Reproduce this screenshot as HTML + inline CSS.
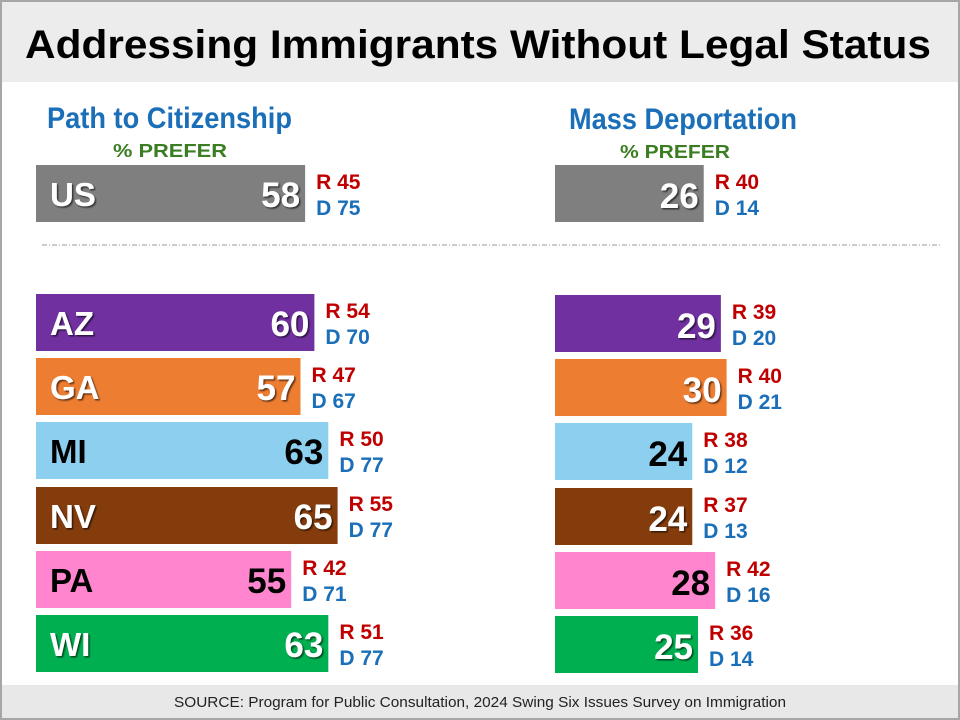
<!DOCTYPE html>
<html><head><meta charset="utf-8"><style>
html,body{margin:0;padding:0;background:#fff}
svg{display:block;font-family:"Liberation Sans",Arial,sans-serif}
</style></head><body>
<svg id="chart" width="960" height="720" viewBox="0 0 960 720">
<defs><filter id="sh" x="-10%" y="-10%" width="130%" height="140%"><feDropShadow dx="1.5" dy="1.5" stdDeviation="0.8" flood-color="#000" flood-opacity="0.6"/></filter></defs>
<rect x="1" y="1" width="958" height="718" fill="#fff" stroke="#a6a6a6" stroke-width="2"/>
<rect x="2" y="2" width="956" height="80" fill="#ececec"/>
<text x="478" y="58" text-anchor="middle" font-size="40" font-weight="bold" fill="#000" textLength="906" lengthAdjust="spacingAndGlyphs">Addressing Immigrants Without Legal Status</text>
<text x="47" y="128" font-size="30" font-weight="bold" fill="#1a6fb8" textLength="245" lengthAdjust="spacingAndGlyphs">Path to Citizenship</text>
<text x="113" y="157" font-size="18" font-weight="bold" fill="#3a7d22" textLength="114" lengthAdjust="spacingAndGlyphs">% PREFER</text>
<text x="569" y="129" font-size="30" font-weight="bold" fill="#1a6fb8" textLength="228" lengthAdjust="spacingAndGlyphs">Mass Deportation</text>
<text x="620" y="158" font-size="18" font-weight="bold" fill="#3a7d22" textLength="110" lengthAdjust="spacingAndGlyphs">% PREFER</text>
<line x1="42" y1="245" x2="940" y2="245" stroke="#999" stroke-width="1" stroke-dasharray="5,2,1,2"/>
<rect x="2" y="685" width="956" height="33" fill="#e8e8e8"/>
<text x="480" y="707" text-anchor="middle" font-size="15" fill="#222" textLength="612" lengthAdjust="spacingAndGlyphs">SOURCE: Program for Public Consultation, 2024 Swing Six Issues Survey on Immigration</text>
<g id="bars"></g>
</svg>
<script>
const regions = ["US","AZ","GA","MI","NV","PA","WI"];
const citizenship = [58,60,57,63,65,55,63];
const citizenshipR = [45,54,47,50,55,42,51];
const citizenshipD = [75,70,67,77,77,71,77];
const deportation = [26,29,30,24,24,28,25];
const deportationR = [40,39,40,38,37,42,36];
const deportationD = [14,20,21,12,13,16,14];

const colors = {US:"#7f7f7f",AZ:"#7030a0",GA:"#ed7d31",MI:"#8ccfee",NV:"#843c0c",PA:"#ff85cf",WI:"#00b050"};
const darkText = {MI:true,PA:true};
const rowTop = [165,294,358,422,487,551,615];
const barH = 57;
const xLeft = v => 36 + v*4.64;
const xRight = v => 555 + v*5.72;
const NS = "http://www.w3.org/2000/svg";
const g = document.getElementById("bars");
function mk(tag, attrs, text){
  const e = document.createElementNS(NS, tag);
  for (const k in attrs) e.setAttribute(k, attrs[k]);
  if (text !== undefined) e.textContent = text;
  g.appendChild(e);
  return e;
}
regions.forEach((r,i)=>{
  const y = rowTop[i];
  const tc = darkText[r] ? "#000" : "#fff";
  const filt = darkText[r] ? "" : "url(#sh)";
  const x1 = xLeft(citizenship[i]);
  const b1 = mk("rect",{x:36,y:y,width:x1-36,height:barH,fill:colors[r]});
  
  
  const s1 = mk("text",{x:50,y:y+41,"font-size":33,"font-weight":"bold",fill:tc,filter:filt},r);
  
  
  const v1 = mk("text",{x:x1-5,y:y+42,"font-size":35,"font-weight":"bold",fill:tc,"text-anchor":"end",filter:filt},citizenship[i]);
  
  
  const rl = mk("text",{x:x1+11,y:y+24,"font-size":21,"font-weight":"bold",fill:"#c00000"},"R "+citizenshipR[i]);
  
  
  const dl = mk("text",{x:x1+11,y:y+50,"font-size":21,"font-weight":"bold",fill:"#1a6fb8"},"D "+citizenshipD[i]);
  
  
  const yr = y + (i===0?0:1);
  const x2 = xRight(deportation[i]);
  const b2 = mk("rect",{x:555,y:yr,width:x2-555,height:barH,fill:colors[r]});
  
  
  const v2 = mk("text",{x:x2-5,y:yr+43,"font-size":35,"font-weight":"bold",fill:tc,"text-anchor":"end",filter:filt},deportation[i]);
  
  
  const rr = mk("text",{x:x2+11,y:yr+24,"font-size":21,"font-weight":"bold",fill:"#c00000"},"R "+deportationR[i]);
  
  
  const dr = mk("text",{x:x2+11,y:yr+50,"font-size":21,"font-weight":"bold",fill:"#1a6fb8"},"D "+deportationD[i]);
  
  
});
</script>
</body></html>
